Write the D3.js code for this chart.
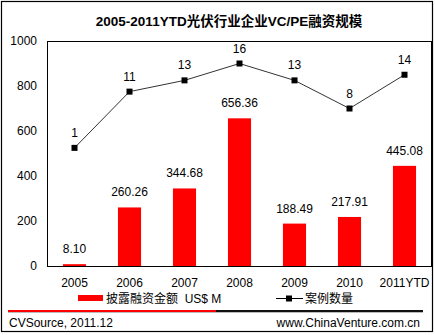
<!DOCTYPE html>
<html>
<head>
<meta charset="utf-8">
<script src="https://cdn.jsdelivr.net/npm/d3@7/dist/d3.min.js"></script>
<style>
  html, body { margin: 0; padding: 0; background: #fff; }
  svg { display: block; }
  text { font-family: "Liberation Sans", Arial, "Noto Sans CJK SC", sans-serif; }
</style>
</head>
<body>
<div id="chart"></div>
<script>
// Years and values
const categories = ["2005", "2006", "2007", "2008", "2009", "2010", "2011YTD"];
const amounts = [8.10, 260.26, 344.68, 656.36, 188.49, 217.91, 445.08];   // US$ M
const dealCounts = [1, 11, 13, 16, 13, 8, 14];
const yTicks = [0, 200, 400, 600, 800, 1000];

const titleText = "2005-2011YTD光伏行业企业VC/PE融资规模";
const barLegend = "披露融资金额  US$ M";
const lineLegend = "案例数量";
const sourceText = "CVSource, 2011.12";
const siteText = "www.ChinaVenture.com.cn";

const W = 435, H = 335;
const plot = { left: 47, right: 432, top: 41, bottom: 266 };

const svg = d3.select("#chart").append("svg")
  .attr("width", W).attr("height", H);

// outer frame
svg.append("rect")
  .attr("x", 1.5).attr("y", 1.5).attr("width", 431).attr("height", 330)
  .attr("fill", "#fff").attr("stroke", "#000").attr("stroke-width", 1.2);

svg.append("text")
  .attr("x", 229).attr("y", 26)
  .attr("text-anchor", "middle")
  .attr("font-size", 13.5).attr("font-weight", "bold")
  .attr("font-family", "'Liberation Sans', Arial, 'Noto Sans CJK SC', sans-serif")
  .text(titleText);

const x = d3.scaleBand().domain(categories)
  .range([plot.left, plot.right]).paddingInner(0.58).paddingOuter(0.29);
const xc = d => x(d) + x.bandwidth() / 2;
const y = d3.scaleLinear().domain([0, 1000]).range([plot.bottom, plot.top]);
// hidden secondary axis for deal counts
const y2 = d3.scaleLinear().domain([-20, 20]).range([plot.bottom, plot.top]);

// plot frame
svg.append("rect")
  .attr("x", plot.left + 0.5).attr("y", plot.top + 0.5)
  .attr("width", plot.right - plot.left - 1).attr("height", plot.bottom - plot.top)
  .attr("fill", "none").attr("stroke", "#000").attr("stroke-width", 1);

// left axis labels
const yAxis = d3.axisLeft(y).tickValues(yTicks).tickFormat(d3.format("d"))
  .tickSize(0).tickPadding(10);
const gy = svg.append("g").attr("transform", `translate(${plot.left},0)`).call(yAxis);
gy.select(".domain").remove();
gy.selectAll("text").attr("font-size", 12).attr("fill", "#000")
  .attr("font-family", "'Liberation Sans', Arial, sans-serif");

// category labels
const xAxis = d3.axisBottom(x).tickSize(0).tickPadding(12);
const gx = svg.append("g").attr("transform", `translate(0,${plot.bottom})`).call(xAxis);
gx.select(".domain").remove();
gx.selectAll("text").attr("font-size", 12).attr("fill", "#000")
  .attr("font-family", "'Liberation Sans', Arial, sans-serif");

// bars
svg.append("g").selectAll("rect").data(amounts).join("rect")
  .attr("x", (d, i) => x(categories[i]))
  .attr("width", x.bandwidth())
  .attr("y", d => y(d))
  .attr("height", d => y(0) - y(d))
  .attr("fill", "#ff0000");

svg.append("g").selectAll("text").data(amounts).join("text")
  .attr("x", (d, i) => xc(categories[i]))
  .attr("y", d => y(d) - 11)
  .attr("text-anchor", "middle")
  .attr("font-size", 12)
  .text(d => d.toFixed(2));

// deal count line
const line = d3.line().x((d, i) => xc(categories[i])).y(d => y2(d));
svg.append("path").datum(dealCounts)
  .attr("d", line).attr("fill", "none")
  .attr("stroke", "#333").attr("stroke-width", 1);

svg.append("g").selectAll("rect").data(dealCounts).join("rect")
  .attr("x", (d, i) => xc(categories[i]) - 3)
  .attr("y", d => y2(d) - 3)
  .attr("width", 6).attr("height", 6)
  .attr("fill", "#000");

svg.append("g").selectAll("text").data(dealCounts).join("text")
  .attr("x", (d, i) => xc(categories[i]))
  .attr("y", d => y2(d) - 11)
  .attr("text-anchor", "middle")
  .attr("font-size", 12)
  .text(d => d);

// legend
const lg = svg.append("g");
lg.append("rect").attr("x", 78).attr("y", 295).attr("width", 25).attr("height", 6)
  .attr("fill", "#ff0000");
lg.append("text").attr("x", 106).attr("y", 303).attr("font-size", 12)
  .attr("xml:space", "preserve").style("white-space", "pre")
  .text(barLegend);
lg.append("line").attr("x1", 276).attr("x2", 303).attr("y1", 298.5).attr("y2", 298.5)
  .attr("stroke", "#000").attr("stroke-width", 1);
lg.append("rect").attr("x", 286).attr("y", 295.5).attr("width", 6).attr("height", 6)
  .attr("fill", "#000");
lg.append("text").attr("x", 305).attr("y", 303).attr("font-size", 12)
  .text(lineLegend);

// footer rule
svg.append("line").attr("x1", 8).attr("x2", 216).attr("y1", 311).attr("y2", 311)
  .attr("stroke", "#ff0000").attr("stroke-width", 2);
svg.append("line").attr("x1", 216).attr("x2", 423).attr("y1", 311).attr("y2", 311)
  .attr("stroke", "#111").attr("stroke-width", 2);
svg.append("line").attr("x1", 8).attr("x2", 423).attr("y1", 312.5).attr("y2", 312.5)
  .attr("stroke", "#bbb").attr("stroke-width", 1);

svg.append("text").attr("x", 9).attr("y", 327).attr("font-size", 12).text(sourceText);
svg.append("text").attr("x", 420).attr("y", 327).attr("font-size", 12)
  .attr("text-anchor", "end").text(siteText);
</script>
</body>
</html>
